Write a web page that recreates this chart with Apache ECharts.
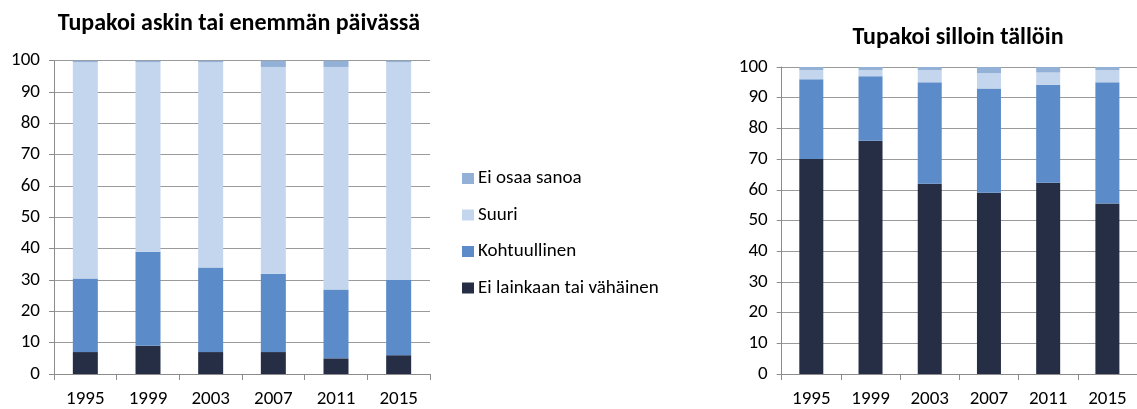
<!DOCTYPE html>
<html>
<head>
<meta charset="utf-8">
<script src="https://cdn.jsdelivr.net/npm/echarts@6/dist/echarts.min.js"></script>
<style>html,body{margin:0;padding:0;background:#fff}#c{width:1137px;height:409px}</style>
</head>
<body>
<div id="c"></div>
<script>
var years = ['1995', '1999', '2003', '2007', '2011', '2015'];
var seriesNames = ['Ei lainkaan tai vähäinen', 'Kohtuullinen', 'Suuri', 'Ei osaa sanoa'];
var colors = ['#252e45', '#5b8bc8', '#c4d6ee', '#93b1d6'];
// Tupakoi askin tai enemmän päivässä
var dailyEiLainkaan = [7, 9, 7, 7, 5, 6];
var dailyKohtuullinen = [23.5, 30, 27, 25, 22, 24];
var dailySuuri = [69, 60.5, 65.5, 66, 71, 69.5];
var dailyEiOsaa = [0.5, 0.5, 0.5, 2, 2, 0.5];
// Tupakoi silloin tällöin
var occEiLainkaan = [70, 76, 62, 59, 62.3, 55.5];
var occKohtuullinen = [26, 21, 33, 34, 31.9, 39.5];
var occSuuri = [3, 2, 4, 5, 4, 4];
var occEiOsaa = [1, 1, 1, 2, 1.8, 1];
var yTicks = [0, 10, 20, 30, 40, 50, 60, 70, 80, 90, 100];

var FONT = 'Carlito, Lato, sans-serif';
var chart = echarts.init(document.getElementById('c'));

function xAxis(gi) {
  return {
    type: 'category', gridIndex: gi, data: years, boundaryGap: true,
    axisLine: {lineStyle: {color: '#8c8c8c', width: 1}},
    axisTick: {show: true, length: 6, lineStyle: {color: '#8c8c8c'}},
    axisLabel: {color: '#000', fontSize: 19, fontFamily: FONT, margin: 16}
  };
}
function yAxis(gi) {
  return {
    type: 'value', gridIndex: gi, min: yTicks[0], max: yTicks[yTicks.length - 1], interval: 10,
    axisLine: {show: true, lineStyle: {color: '#8c8c8c'}},
    axisTick: {show: true, length: 5, lineStyle: {color: '#8c8c8c'}},
    splitLine: {show: true, lineStyle: {color: '#9a9a9a', width: 1}},
    axisLabel: {color: '#000', fontSize: 19, fontFamily: FONT, margin: 14}
  };
}
var dailyData = [dailyEiLainkaan, dailyKohtuullinen, dailySuuri, dailyEiOsaa];
var occData = [occEiLainkaan, occKohtuullinen, occSuuri, occEiOsaa];
var series = [];
seriesNames.forEach(function (n, i) {
  series.push({name: n, type: 'bar', stack: 'a', xAxisIndex: 0, yAxisIndex: 0, barWidth: 25,
    itemStyle: {color: colors[i]}, data: dailyData[i]});
});
seriesNames.forEach(function (n, i) {
  series.push({name: n, type: 'bar', stack: 'b', xAxisIndex: 1, yAxisIndex: 1, barWidth: 24,
    itemStyle: {color: colors[i]}, data: occData[i]});
});

chart.setOption({
  animation: false,
  textStyle: {fontFamily: FONT},
  title: [
    {text: 'Tupakoi askin tai enemmän päivässä', left: 239, top: 12, padding: 0, textAlign: 'center',
      textStyle: {fontSize: 24, fontWeight: 'bold', color: '#000', fontFamily: FONT}},
    {text: 'Tupakoi silloin tällöin', left: 958, top: 26, padding: 0, textAlign: 'center',
      textStyle: {fontSize: 24, fontWeight: 'bold', color: '#000', fontFamily: FONT}}
  ],
  legend: {
    orient: 'vertical', left: 462, top: 169, padding: 0, itemWidth: 12, itemHeight: 11, itemGap: 17.5,
    data: ['Ei osaa sanoa', 'Suuri', 'Kohtuullinen', 'Ei lainkaan tai vähäinen'],
    textStyle: {fontSize: 19, color: '#000', fontFamily: FONT, padding: [0, 0, 0, -1]},
    icon: 'rect', selectedMode: false
  },
  grid: [
    {left: 54, top: 60.7, width: 376, height: 315, containLabel: false},
    {left: 781.7, top: 67, width: 362, height: 309.3, containLabel: false}
  ],
  xAxis: [xAxis(0), xAxis(1)],
  yAxis: [yAxis(0), yAxis(1)],
  series: series
});
</script>
</body>
</html>
